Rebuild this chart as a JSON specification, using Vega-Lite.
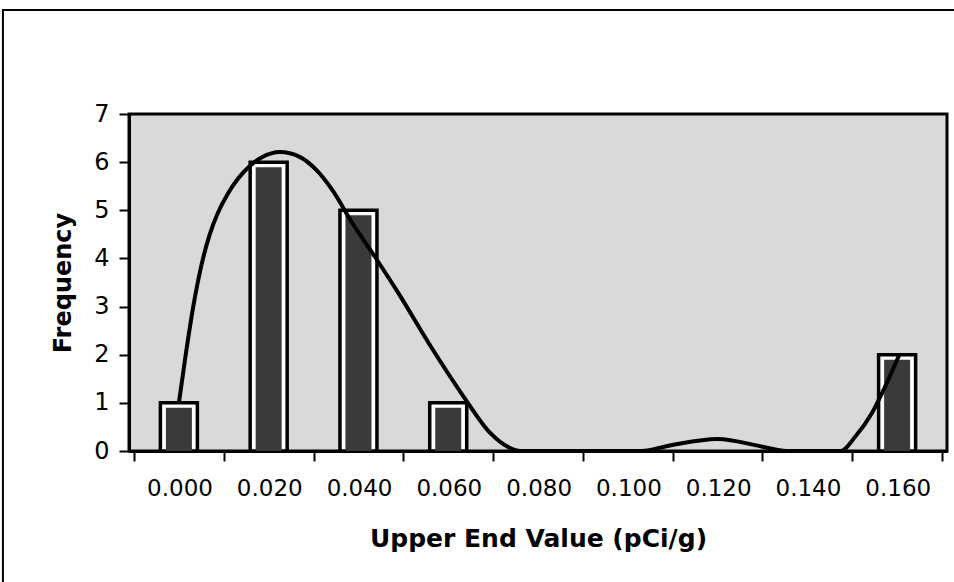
{
  "$schema": "https://vega.github.io/schema/vega-lite/v6.json",
  "autosize": {"type": "none"},
  "width": 818,
  "height": 337,
  "padding": {"left": 129, "top": 114, "right": 7, "bottom": 131},
  "background": "white",
  "config": {
    "font": "DejaVu Sans",
    "view": {"fill": "#d9d9d9", "stroke": "black", "strokeWidth": 3},
    "axis": {"domainColor": "black", "domainWidth": 3, "tickColor": "black", "tickWidth": 2, "tickSize": 10, "labelColor": "black", "titleColor": "black", "grid": false, "labelFont": "DejaVu Sans", "titleFont": "DejaVu Sans"}
  },
  "datasets": {
    "bars": [
      {"value": 0.0, "frequency": 1},
      {"value": 0.02, "frequency": 6},
      {"value": 0.04, "frequency": 5},
      {"value": 0.06, "frequency": 1},
      {"value": 0.16, "frequency": 2}
    ],
    "curve": [
      {"value": 0.0, "frequency": 1.0},
      {"value": 0.0016, "frequency": 2.05},
      {"value": 0.0032, "frequency": 3.0},
      {"value": 0.005, "frequency": 3.85},
      {"value": 0.0068, "frequency": 4.48},
      {"value": 0.0087, "frequency": 4.95},
      {"value": 0.0108, "frequency": 5.33},
      {"value": 0.0132, "frequency": 5.66},
      {"value": 0.0158, "frequency": 5.92},
      {"value": 0.0185, "frequency": 6.1},
      {"value": 0.0225, "frequency": 6.21},
      {"value": 0.0269, "frequency": 6.11},
      {"value": 0.0305, "frequency": 5.85},
      {"value": 0.0342, "frequency": 5.42},
      {"value": 0.0386, "frequency": 4.74},
      {"value": 0.0437, "frequency": 4.03},
      {"value": 0.0489, "frequency": 3.28},
      {"value": 0.0562, "frequency": 2.16},
      {"value": 0.0635, "frequency": 1.12},
      {"value": 0.0694, "frequency": 0.37},
      {"value": 0.0738, "frequency": 0.06},
      {"value": 0.076, "frequency": 0},
      {"value": 0.103, "frequency": 0},
      {"value": 0.1096, "frequency": 0.12},
      {"value": 0.12, "frequency": 0.25},
      {"value": 0.13, "frequency": 0.09},
      {"value": 0.1353, "frequency": 0},
      {"value": 0.1474, "frequency": 0},
      {"value": 0.1507, "frequency": 0.3},
      {"value": 0.1544, "frequency": 0.79},
      {"value": 0.1573, "frequency": 1.33},
      {"value": 0.1605, "frequency": 2.0}
    ]
  },
  "layer": [
    {
      "data": {"values": [{}]},
      "mark": {"type": "rect", "fillOpacity": 0, "stroke": "black", "strokeWidth": 2, "clip": false},
      "encoding": {
        "x": {"datum": -0.0392, "type": "quantitative", "scale": {"domain": [-0.01, 0.17], "nice": false, "zero": false}},
        "x2": {"datum": 0.3},
        "y": {"datum": 9.16, "type": "quantitative", "scale": {"domain": [0, 7], "nice": false}},
        "y2": {"datum": -5}
      }
    },
    {
      "data": {"name": "bars"},
      "mark": {"type": "bar", "orient": "vertical", "size": 37, "fill": "white", "stroke": "black", "strokeWidth": 3.5},
      "encoding": {
        "x": {
          "field": "value", "type": "quantitative",
          "scale": {"domain": [-0.01, 0.17], "nice": false, "zero": false},
          "axis": {
            "title": "Upper End Value (pCi/g)",
            "values": [-0.01, 0.01, 0.03, 0.05, 0.07, 0.09, 0.11, 0.13, 0.15, 0.17],
            "labelExpr": "datum.value < 0.165 ? format(datum.value + 0.01, '.3f') : ''",
            "labelOffset": 45.5,
            "labelFontSize": 23,
            "labelPadding": 16,
            "labelOverlap": false,
            "labelFlush": false,
            "titleFontSize": 25,
            "titleFontWeight": "bold",
            "titlePadding": 26
          }
        },
        "y": {
          "field": "frequency", "type": "quantitative",
          "scale": {"domain": [0, 7], "nice": false},
          "axis": {
            "title": "Frequency",
            "values": [0, 1, 2, 3, 4, 5, 6, 7],
            "labelFontSize": 24,
            "labelPadding": 10,
            "titleFontSize": 24,
            "titleFontWeight": "bold",
            "titlePadding": 18
          }
        },
        "y2": {"datum": 0}
      }
    },
    {
      "data": {"name": "bars"},
      "mark": {"type": "bar", "orient": "vertical", "size": 26, "fill": "#3a3a3a", "yOffset": 5},
      "encoding": {
        "x": {"field": "value", "type": "quantitative"},
        "y": {"field": "frequency", "type": "quantitative"},
        "y2": {"datum": 0}
      }
    },
    {
      "data": {"name": "curve"},
      "mark": {"type": "line", "color": "black", "strokeWidth": 4, "interpolate": "monotone"},
      "encoding": {
        "x": {"field": "value", "type": "quantitative"},
        "y": {"field": "frequency", "type": "quantitative"}
      }
    }
  ]
}
